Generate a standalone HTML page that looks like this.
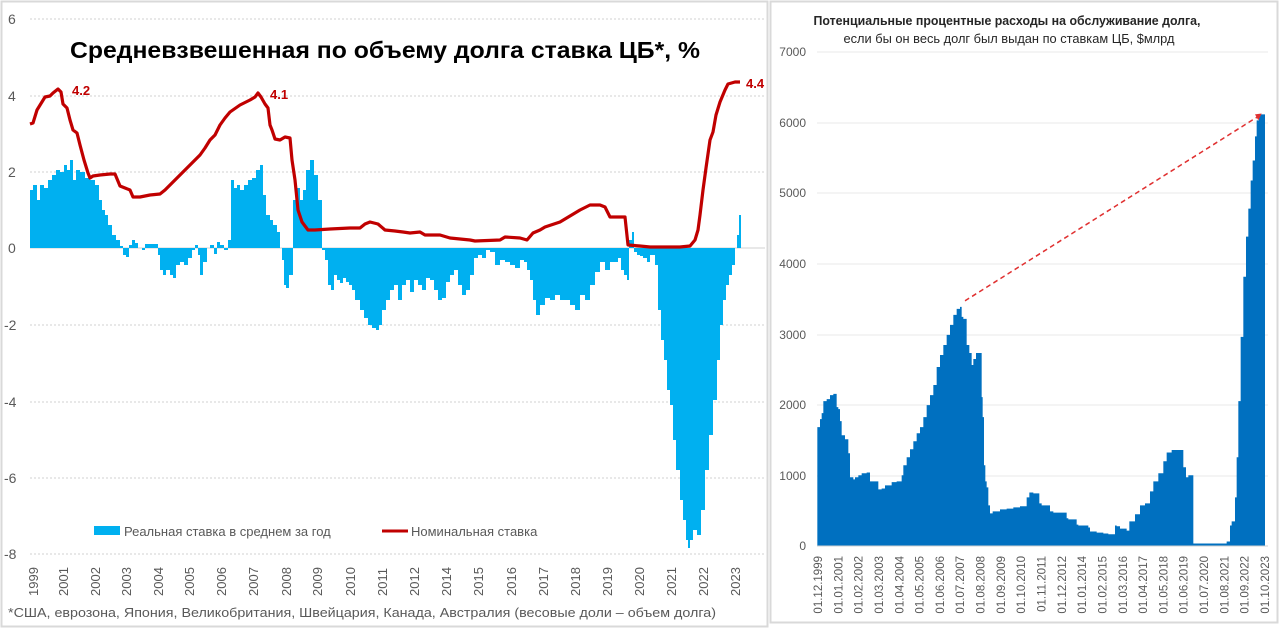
<!DOCTYPE html>
<html><head><meta charset="utf-8"><style>
body{margin:0;background:#fff;}
svg text{font-family:"Liberation Sans","Noto Sans CJK SC",sans-serif;}
</style></head><body>
<svg id="s" width="1280" height="629" xmlns="http://www.w3.org/2000/svg">
<rect x="0" y="0" width="1280" height="629" fill="#fff"/>
<rect x="1.5" y="1.5" width="766" height="625" fill="none" stroke="#d9d9d9" stroke-width="2"/>
<rect x="770.5" y="1.5" width="507" height="621" fill="none" stroke="#d9d9d9" stroke-width="2"/>
<!-- left grid -->
<g stroke="#d0d0d0" stroke-dasharray="2,2" stroke-width="1">
<line x1="30" x2="765" y1="19" y2="19"/><line x1="30" x2="765" y1="96" y2="96"/>
<line x1="30" x2="765" y1="172" y2="172"/><line x1="30" x2="765" y1="325" y2="325"/>
<line x1="30" x2="765" y1="402" y2="402"/><line x1="30" x2="765" y1="478" y2="478"/>
<line x1="30" x2="765" y1="554" y2="554"/>
</g>
<line x1="30" x2="765" y1="248" y2="248" stroke="#d0d0d0"/>
<g fill="#595959" font-size="14">
<text x="8" y="24">6</text><text x="8" y="101">4</text><text x="8" y="177">2</text>
<text x="8" y="253">0</text><text x="4" y="330">-2</text><text x="4" y="407">-4</text>
<text x="4" y="483">-6</text><text x="4" y="559">-8</text>
</g>
<path id="blue" fill="#00B0F0"/>
<polyline id="red" fill="none" stroke="#C00000" stroke-width="3.2" stroke-linejoin="round"/>
<g fill="#C00000" font-weight="bold" font-size="13">
<text x="72" y="95">4.2</text><text x="270" y="99">4.1</text><text x="746" y="88">4.4</text>
</g>
<text x="385" y="58" text-anchor="middle" font-size="23" font-weight="bold" fill="#000" textLength="630" lengthAdjust="spacingAndGlyphs">Средневзвешенная по объему долга ставка ЦБ*, %</text>
<rect x="94" y="526" width="26" height="9" fill="#00B0F0"/>
<text x="124" y="536" font-size="13" fill="#595959">Реальная ставка в среднем за год</text>
<line x1="382" x2="408" y1="531" y2="531" stroke="#C00000" stroke-width="3"/>
<text x="411" y="536" font-size="13" fill="#595959">Номинальная ставка</text>
<g id="years" fill="#595959" font-size="13"></g>
<text x="8" y="617" font-size="13" fill="#595959" textLength="708" lengthAdjust="spacingAndGlyphs">*США, еврозона, Япония, Великобритания, Швейцария, Канада, Австралия (весовые доли – объем долга)</text>
<!-- right -->
<text x="1007" y="25" text-anchor="middle" font-size="12.5" font-weight="bold" fill="#262626" textLength="387" lengthAdjust="spacingAndGlyphs">Потенциальные процентные расходы на обслуживание долга,</text>
<text x="1009" y="43" text-anchor="middle" font-size="12.5" fill="#262626" textLength="331" lengthAdjust="spacingAndGlyphs">если бы он весь долг был выдан по ставкам ЦБ, $млрд</text>
<g stroke="#e8e8e8"><line x1="817" x2="1268" y1="52" y2="52"/><line x1="817" x2="1268" y1="123" y2="123"/><line x1="817" x2="1268" y1="193" y2="193"/><line x1="817" x2="1268" y1="264" y2="264"/><line x1="817" x2="1268" y1="335" y2="335"/><line x1="817" x2="1268" y1="405" y2="405"/><line x1="817" x2="1268" y1="476" y2="476"/></g>
<g fill="#595959" font-size="12" text-anchor="end">
<text x="806" y="56">7000</text><text x="806" y="127">6000</text><text x="806" y="197">5000</text><text x="806" y="268">4000</text><text x="806" y="339">3000</text><text x="806" y="409">2000</text><text x="806" y="480">1000</text><text x="806" y="550">0</text>
</g>
<g transform="translate(760,0) scale(0.33333,0.4011)">
<path id="rb" fill="#0070C0"/>
<line x1="615" y1="750" x2="1495" y2="290" stroke="#E03030" stroke-width="4" stroke-dasharray="14,10"/>
<polygon points="1505,283 1485,285 1495,300" fill="#E03030"/>
</g>
<line x1="817" x2="1268" y1="546" y2="546" stroke="#d0d0d0"/>
<g id="dates" fill="#595959" font-size="11.5"></g>
</svg>
<script>
var bp=[30,190,33,185,37,200,40,185,44,188,48,180,52,175,56,170,60,172,64,165,67,170,70,160,73,180,76,170,80,172,85,178,90,180,95,185,99,200,102,210,105,215,108,225,112,235,116,240,120,246,123,255,126,257,129,245,132,240,135,243,138,248,142,250,145,244,150,244,155,244,158,255,160,270,163,275,166,270,170,275,173,278,176,265,180,262,184,265,188,258,192,250,195,245,198,255,200,275,203,262,207,248,210,245,214,254,217,242,220,245,224,250,228,240,231,180,234,188,237,185,240,190,244,185,248,180,252,178,256,170,260,165,263,195,266,215,270,220,273,225,277,232,280,248,282,260,284,285,286,288,289,275,293,200,296,188,300,200,303,190,306,170,310,160,314,175,318,200,322,250,325,260,328,285,331,290,334,275,337,280,340,283,343,278,346,282,349,285,352,290,355,300,360,310,364,318,368,325,372,328,376,330,379,325,382,310,386,300,390,290,394,285,398,300,402,285,406,280,410,292,414,280,418,285,422,290,426,278,430,280,434,290,438,300,442,298,446,282,450,275,454,270,458,285,462,295,466,290,470,275,474,258,478,255,482,258,486,250,490,252,495,265,500,260,505,262,510,265,515,268,520,260,524,262,527,270,530,280,533,300,536,315,540,305,545,298,550,300,555,295,560,300,565,300,570,305,575,310,580,295,585,300,590,285,595,272,600,262,605,270,610,262,614,262,618,258,621,270,624,275,627,280,629,240,632,232,634,252,637,255,640,256,643,258,647,262,650,255,655,265,658,310,661,340,664,360,667,390,670,405,673,440,676,470,680,500,683,520,686,540,688,548,690,540,693,530,697,535,701,510,705,470,709,435,713,400,717,360,720,325,723,300,726,285,729,275,732,265,735,248,737,235,739,215,741,248];
var d="M30,248";for(var i=0;i<bp.length;i+=2){d+=" H"+bp[i]+" V"+bp[i+1];}d+=" H741 V248 Z";
document.getElementById('blue').setAttribute('d',d);
var rp=[30,124,33,123,37,110,45,97,50,96,53,93,58,89,61,92,63,104,67,108,70,120,73,130,77,133,80,145,84,160,88,173,90,178,93,176,100,175,110,174,115,174,120,186,125,188,130,190,133,197,140,197,150,195,160,194,165,190,170,185,175,180,180,175,185,170,190,165,195,160,200,155,205,148,210,140,215,135,220,125,225,118,230,112,240,105,250,100,255,97,258,93,261,97,265,104,268,108,270,125,272,130,275,139,280,140,285,137,290,138,292,160,295,180,298,210,302,222,308,230,315,230,330,229,350,228,360,228,365,224,370,222,378,224,385,230,395,231,403,232,410,233,420,232,425,235,440,235,450,238,470,240,475,241,500,240,505,237,520,238,527,240,533,233,540,230,545,227,560,222,570,216,580,210,590,205,600,205,605,207,610,217,617,217,625,217,628,245,640,246,650,247,680,247,690,246,695,240,698,230,700,215,703,190,706,168,710,140,713,132,716,115,720,102,725,90,728,84,735,82,740,82];
var s="";for(i=0;i<rp.length;i+=2)s+=rp[i]+","+rp[i+1]+" ";document.getElementById('red').setAttribute('points',s);
var yrs=[[1999,33],[2001,63],[2002,95],[2003,126],[2004,158],[2005,189],[2006,221],[2007,253],[2008,286],[2009,317],[2010,350],[2011,382],[2012,414],[2014,446],[2015,478],[2016,511],[2017,543],[2018,575],[2019,607],[2020,639],[2021,671],[2022,703],[2023,735]];
var g=document.getElementById('years'),h="";
yrs.forEach(function(y){h+='<text transform="translate('+(y[1]+5)+',596) rotate(-90)">'+y[0]+'</text>';});g.innerHTML=h;
var rr=[172,1070,180,1065,185,1045,190,1030,200,1000,210,995,220,985,230,982,235,1015,240,1020,245,1050,255,1085,265,1095,270,1130,280,1190,285,1195,295,1190,305,1185,320,1180,330,1178,340,1200,355,1200,365,1220,375,1218,395,1210,410,1202,425,1200,430,1185,440,1160,450,1140,460,1120,470,1100,480,1080,490,1065,500,1040,510,1010,520,985,530,960,540,915,550,885,560,860,570,835,580,810,590,785,600,770,605,765,610,790,620,795,628,860,635,880,640,910,648,895,655,880,665,880,668,990,672,1040,676,1160,680,1200,685,1215,690,1260,698,1280,720,1275,740,1270,760,1268,780,1265,800,1262,808,1240,820,1228,838,1230,845,1255,870,1260,880,1275,920,1278,925,1292,950,1295,955,1308,985,1310,990,1315,1010,1325,1030,1328,1045,1330,1065,1332,1070,1310,1080,1312,1100,1318,1108,1323,1125,1300,1140,1282,1155,1260,1170,1255,1180,1225,1195,1200,1210,1180,1220,1150,1235,1128,1250,1122,1270,1122,1278,1165,1285,1190,1300,1185,1305,1355,1400,1355,1410,1350,1415,1310,1425,1300,1430,1240,1435,1140,1442,1000,1450,840,1458,690,1465,590,1472,520,1478,450,1485,400,1490,340,1497,300,1503,285,1515,285];
d="M172,1362";for(i=0;i<rr.length;i+=2){d+=" V"+rr[i+1]+" H"+rr[i];}d+=" V1362 Z";
document.getElementById('rb').setAttribute('d',d);
var ds=["01.12.1999","01.01.2001","01.02.2002","01.03.2003","01.04.2004","01.05.2005","01.06.2006","01.07.2007","01.08.2008","01.09.2009","01.10.2010","01.11.2011","01.12.2012","01.01.2014","01.02.2015","01.03.2016","01.04.2017","01.05.2018","01.06.2019","01.07.2020","01.08.2021","01.09.2022","01.10.2023"];
h="";ds.forEach(function(t,k){var x=818+k*(447/22);h+='<text transform="translate('+(x+4)+',556) rotate(-90)" text-anchor="end">'+t+'</text>';});
document.getElementById('dates').innerHTML=h;
</script>
</body></html>
